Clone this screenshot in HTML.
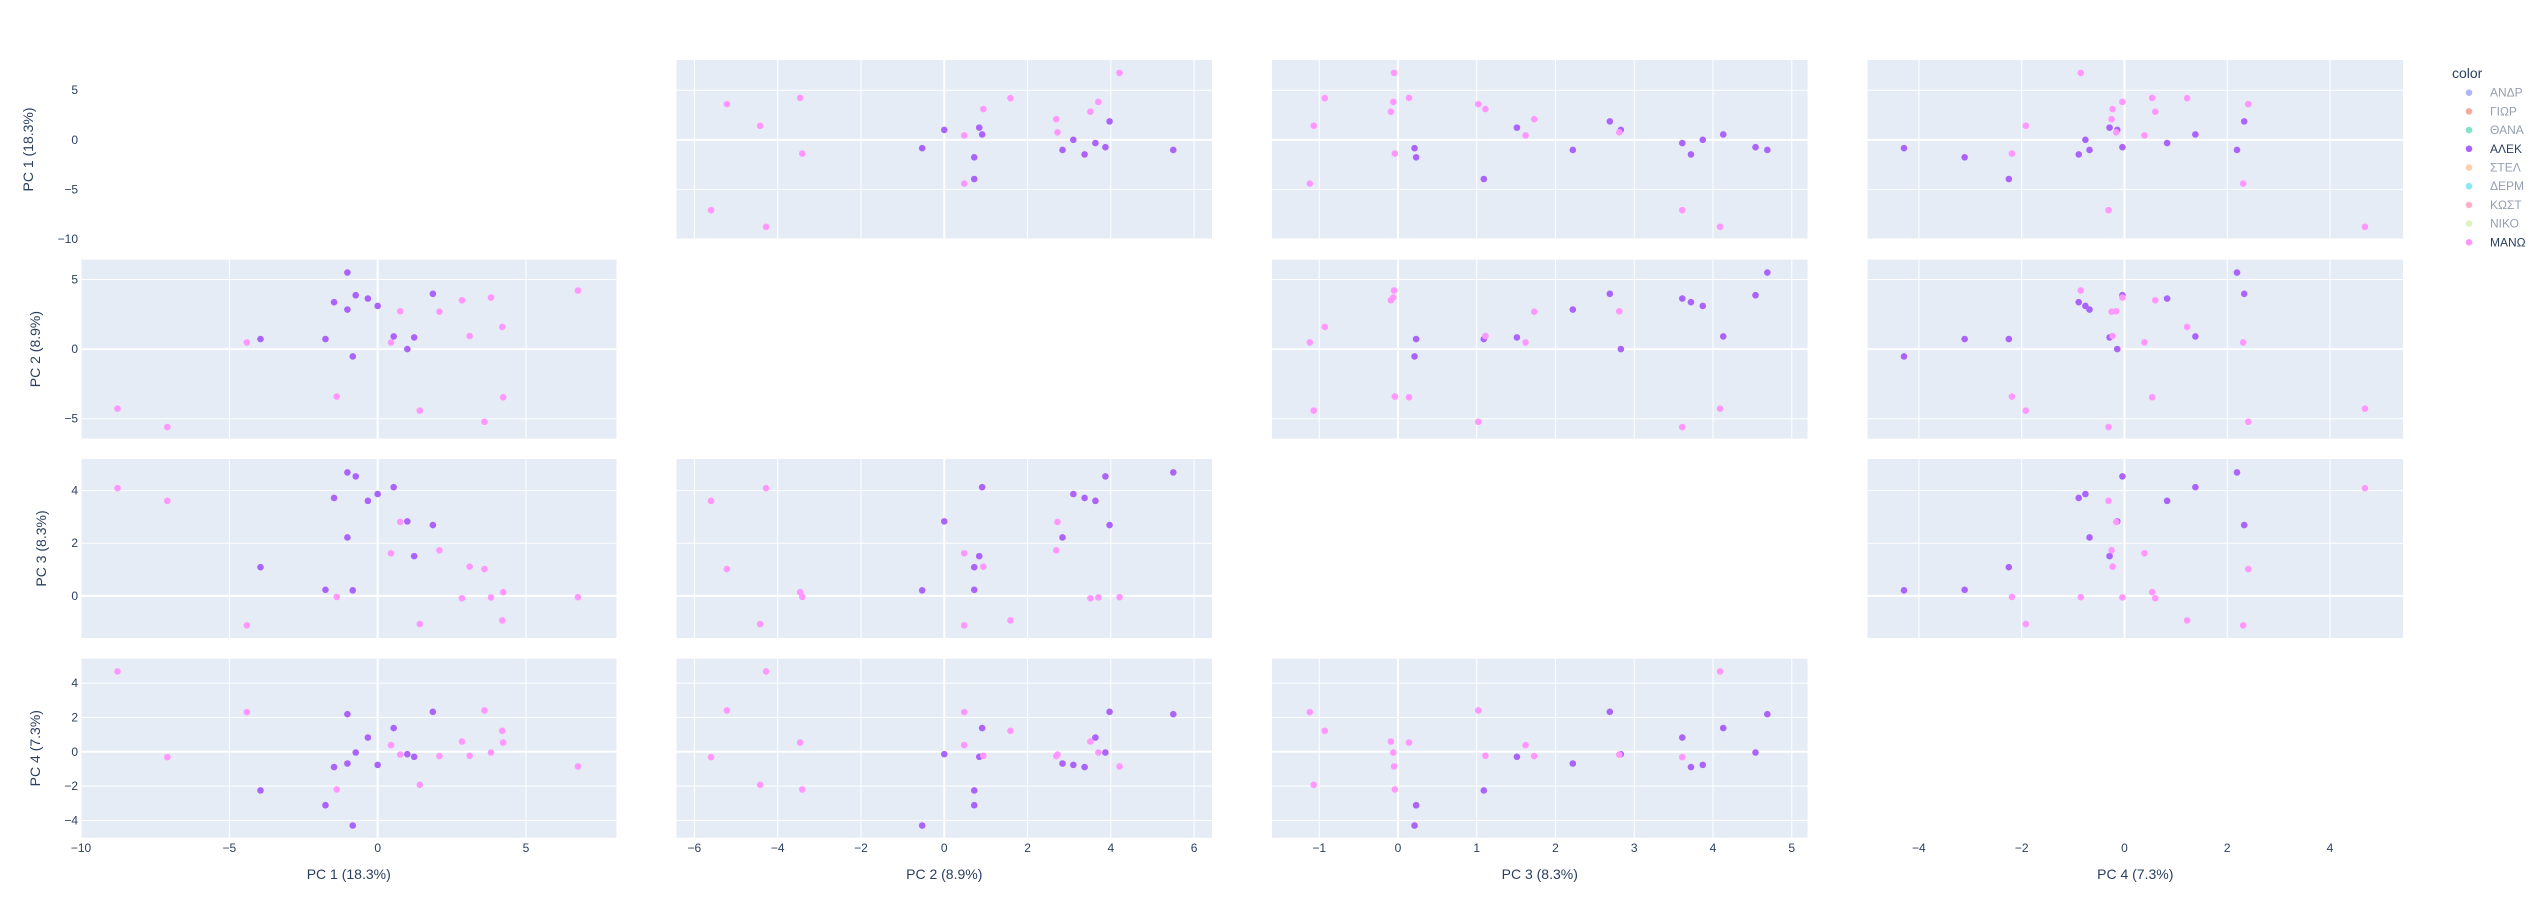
<!DOCTYPE html>
<html><head><meta charset="utf-8">
<style>
html,body{margin:0;padding:0;background:#fff;}
svg{display:block;font-family:"Liberation Sans",Arial,sans-serif;}
</style></head>
<body>
<svg id="chart" width="2544" height="918" viewBox="0 0 2544 918" xmlns="http://www.w3.org/2000/svg">
<g id="panels"></g>
<g id="marks"></g>
<g id="labels"></g>
<g id="legend"></g>
</svg>
<script>
const dims = ["PC 1 (18.3%)", "PC 2 (8.9%)", "PC 3 (8.3%)", "PC 4 (7.3%)"];
const ranges = [[-10.0, 8.05], [-6.43, 6.43], [-1.6, 5.2], [-5.0, 5.42]];
const ticks = [[-10, -5, 0, 5], [-6, -4, -2, 0, 2, 4, 6], [-1, 0, 1, 2, 3, 4, 5], [-4, -2, 0, 2, 4]];
const yTicks = [[-10, -5, 0, 5], [-5, 0, 5], [0, 2, 4], [-4, -2, 0, 2, 4]];

const alekPC1 = [-3.95, -1.76, -1.47, -1.02, -1.02, -0.74, -0.84, -0.33, 0.0, 0.54, 1.0, 1.23, 1.86];
const alekPC2 = [0.72, 0.72, 3.37, 5.5, 2.84, 3.87, -0.53, 3.63, 3.1, 0.91, 0.0, 0.84, 3.97];
const alekPC3 = [1.09, 0.23, 3.72, 4.69, 2.22, 4.54, 0.21, 3.61, 3.87, 4.13, 2.83, 1.51, 2.69];
const alekPC4 = [-2.25, -3.11, -0.89, 2.19, -0.68, -0.04, -4.29, 0.83, -0.76, 1.38, -0.14, -0.29, 2.33];

const manoPC1 = [-8.77, -7.09, -4.41, -1.38, 0.45, 0.76, 1.42, 2.08, 2.84, 3.1, 3.6, 3.82, 4.2, 4.23, 6.75];
const manoPC2 = [-4.28, -5.6, 0.48, -3.41, 0.48, 2.72, -4.42, 2.69, 3.51, 0.94, -5.22, 3.7, 1.59, -3.46, 4.21];
const manoPC3 = [4.09, 3.61, -1.12, -0.04, 1.62, 2.81, -1.07, 1.73, -0.09, 1.11, 1.02, -0.06, -0.93, 0.14, -0.05];
const manoPC4 = [4.68, -0.31, 2.31, -2.19, 0.39, -0.16, -1.92, -0.25, 0.6, -0.23, 2.41, -0.04, 1.22, 0.54, -0.85];

const legendNames = ["ΑΝΔΡ", "ΓΙΩΡ", "ΘΑΝΑ", "ΑΛΕΚ", "ΣΤΕΛ", "ΔΕΡΜ", "ΚΩΣΤ", "ΝΙΚΟ", "ΜΑΝΩ"];
const legendColors = ["#636efa", "#EF553B", "#00cc96", "#ab63fa", "#FFA15A", "#19d3f3", "#FF6692", "#B6E880", "#FF97FF"];
const legendVisible = [false, false, false, true, false, false, false, false, true];

const NS = "http://www.w3.org/2000/svg";
const colX = [81, 676.5, 1272, 1867.5];
const rowY = [60, 259.6, 459, 658.7];
const titleX = [33, 40, 46, 40];
const PW = 535.5, PH = 179;

function mk(tag, attrs, parent) {
  const e = document.createElementNS(NS, tag);
  for (const k in attrs) e.setAttribute(k, attrs[k]);
  parent.appendChild(e);
  return e;
}
function sx(c, v) { const r = ranges[c]; return colX[c] + (v - r[0]) / (r[1] - r[0]) * PW; }
function sy(rw, v) { const r = ranges[rw]; return rowY[rw] + PH - (v - r[0]) / (r[1] - r[0]) * PH; }

const panels = document.getElementById("panels");
const marks = document.getElementById("marks");
const labels = document.getElementById("labels");
const legend = document.getElementById("legend");

for (let r = 0; r < 4; r++) {
  for (let c = 0; c < 4; c++) {
    if (r === c) continue;
    const bg = mk("rect", {x: colX[c], y: rowY[r], width: PW, height: PH, fill: "#E5ECF6"}, panels);
    
    
    for (const t of ticks[c]) {
      const x = sx(c, t);
      const gl = mk("line", {x1: x, x2: x, y1: rowY[r], y2: rowY[r] + PH, stroke: "#fff", "stroke-width": t === 0 ? 2 : 1}, panels);
      
      
    }
    for (const t of yTicks[r]) {
      const y = sy(r, t);
      const gl = mk("line", {x1: colX[c], x2: colX[c] + PW, y1: y, y2: y, stroke: "#fff", "stroke-width": t === 0 ? 2 : 1}, panels);
      
      
    }
  }
}

const alek = [alekPC1, alekPC2, alekPC3, alekPC4];
const mano = [manoPC1, manoPC2, manoPC3, manoPC4];
const series = [[alek, "#ab63fa", "alek"], [mano, "#FF97FF", "mano"]];
for (let r = 0; r < 4; r++) {
  for (let c = 0; c < 4; c++) {
    if (r === c) continue;
    for (const [d, col, nm] of series) {
      for (let i = 0; i < d[0].length; i++) {
        const p = mk("circle", {cx: sx(c, d[c][i]), cy: sy(r, d[r][i]), r: 3.3, fill: col}, marks);
        
        
      }
    }
  }
}

function fmt(t) { return t < 0 ? "\u2212" + Math.abs(t) : String(t); }
for (let r = 0; r < 4; r++) {
  for (const t of yTicks[r]) {
    const tx = mk("text", {x: 78, y: sy(r, t) + 4, "text-anchor": "end", "font-size": 12, fill: "#2a3f5f"}, labels);
    tx.textContent = fmt(t);
    
    
  }
  const cy = rowY[r] + PH / 2;
  const tx0 = titleX[r];
  const yt = mk("text", {x: tx0, y: cy, transform: "rotate(-90 " + tx0 + " " + cy + ")", "text-anchor": "middle", "font-size": 14, fill: "#2a3f5f"}, labels);
  yt.textContent = dims[r];
  
  
}
for (let c = 0; c < 4; c++) {
  for (const t of ticks[c]) {
    const tx = mk("text", {x: sx(c, t), y: 852, "text-anchor": "middle", "font-size": 12, fill: "#2a3f5f"}, labels);
    tx.textContent = fmt(t);
    
    
  }
  const xt = mk("text", {x: colX[c] + PW / 2, y: 879, "text-anchor": "middle", "font-size": 14, fill: "#2a3f5f"}, labels);
  xt.textContent = dims[c];
  
  
}

const lt = mk("text", {x: 2452, y: 78, "font-size": 14, fill: "#2a3f5f"}, legend);
lt.textContent = "color";


for (let i = 0; i < legendNames.length; i++) {
  const y = 92.7 + i * 18.7;
  const g = mk("g", {opacity: legendVisible[i] ? 1 : 0.5}, legend);
  
  
  mk("circle", {cx: 2469, cy: y, r: 3.3, fill: legendColors[i]}, g);
  const t = mk("text", {x: 2490, y: y + 4, "font-size": 12, fill: "#2a3f5f"}, g);
  t.textContent = legendNames[i];
}
</script>
</body></html>
